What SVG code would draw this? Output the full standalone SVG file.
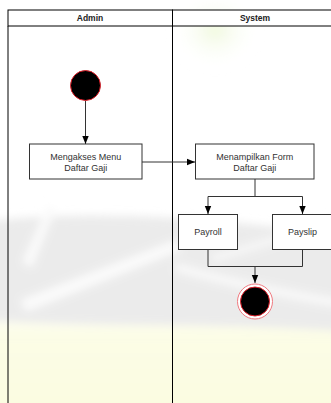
<svg xmlns="http://www.w3.org/2000/svg" width="331" height="403" viewBox="0 0 331 403">
  <defs>
    <marker id="arrow" viewBox="0 0 8 8" refX="8" refY="4" markerWidth="8" markerHeight="8" markerUnits="userSpaceOnUse" orient="auto">
      <path d="M0,0.8 L8,4 L0,7.2 Z" fill="#000"/>
    </marker>
    <linearGradient id="tint" x1="0" y1="0" x2="0" y2="1">
      <stop offset="0" stop-color="#fcfde6" stop-opacity="0"/>
      <stop offset="0.25" stop-color="#fcfde6"/>
      <stop offset="1" stop-color="#fbfcdf"/>
    </linearGradient>
    <radialGradient id="glow" cx="0.5" cy="0.5" r="0.5">
      <stop offset="0" stop-color="#f0f9de"/>
      <stop offset="1" stop-color="#ffffff" stop-opacity="0"/>
    </radialGradient>
    <filter id="soft" x="-10%" y="-10%" width="120%" height="120%">
      <feGaussianBlur stdDeviation="4"/>
    </filter>
  </defs>
  <style>
    .lane { fill: none; stroke: #000; stroke-width: 1; }
    .head { fill: #fff; stroke: #000; stroke-width: 1; }
    .hdr { font-family: "Liberation Sans", Arial, sans-serif; font-size: 8.5px; font-weight: bold; fill: #222; text-anchor: middle; }
    .box { fill: #fff; stroke: #333; stroke-width: 1; }
    .lbl { font-family: "Liberation Sans", Arial, sans-serif; font-size: 9px; fill: #333; text-anchor: middle; }
    .edge { fill: none; stroke: #333; stroke-width: 1; }
  </style>

  <!-- faint background watermark -->
  <rect x="0" y="0" width="331" height="403" fill="#fff"/>
  <g id="watermark" filter="url(#soft)">
    <ellipse cx="215" cy="30" rx="45" ry="40" fill="url(#glow)"/>
    <rect x="-20" y="305" width="371" height="120" fill="url(#tint)"/>
    <path d="M-20,222 C80,210 220,215 351,238 L351,332 C240,322 120,328 -20,320 Z" fill="#ebebeb"/>
    <path d="M20,300 L175,240 L182,250 L26,312 Z" fill="#fbfbfb"/>
    <path d="M22,262 L48,205 L56,208 L32,268 Z" fill="#fbfbfb"/>
    <path d="M175,262 C230,278 290,290 351,300 L351,310 C290,300 230,288 175,272 Z" fill="#f8f8f8"/>
    <path d="M210,255 L351,212 L351,221 L214,263 Z" fill="#f6f6f6"/>
  </g>

  <!-- swimlanes -->
  <g id="lanes">
    <rect class="head" x="8" y="10" width="164.5" height="16"/>
    <rect class="head" x="172.5" y="10" width="159" height="16"/>
    <line class="lane" x1="8" y1="26" x2="8" y2="403"/>
    <line class="lane" x1="172.5" y1="26" x2="172.5" y2="403"/>
    <text class="hdr" x="90" y="21">Admin</text>
    <text class="hdr" x="255" y="21">System</text>
  </g>

  <!-- connectors -->
  <g id="connectors">
    <path class="edge" d="M85.5,100.5 L85.5,144" marker-end="url(#arrow)"/>
    <path class="edge" d="M142,162 L195,162" marker-end="url(#arrow)"/>
    <path class="edge" d="M255,179 L255,196.5 L208,196.5 L208,214" marker-end="url(#arrow)"/>
    <path class="edge" d="M255,196.5 L302.5,196.5 L302.5,214" marker-end="url(#arrow)"/>
    <path class="edge" d="M208,249.5 L208,266.5 L302.5,266.5 L302.5,249.5"/>
    <path class="edge" d="M255,266.5 L255,283" marker-end="url(#arrow)"/>
  </g>

  <g id="start">
    <circle cx="85.5" cy="85.5" r="15" fill="#000" stroke="#e0202a" stroke-width="1"/>
  </g>

  <g id="akses-menu">
    <rect class="box" x="29.5" y="144" width="112.5" height="35"/>
    <text class="lbl" x="85.75" y="160">Mengakses Menu</text>
    <text class="lbl" x="85.75" y="171">Daftar Gaji</text>
  </g>

  <g id="tampil-form">
    <rect class="box" x="195.5" y="144" width="118.5" height="35"/>
    <text class="lbl" x="254.75" y="160">Menampilkan Form</text>
    <text class="lbl" x="254.75" y="171">Daftar Gaji</text>
  </g>

  <g id="payroll">
    <rect class="box" x="178.5" y="214.5" width="59" height="35"/>
    <text class="lbl" x="208" y="235">Payroll</text>
  </g>

  <g id="payslip">
    <rect class="box" x="272.5" y="214.5" width="60" height="35"/>
    <text class="lbl" x="302.5" y="235">Payslip</text>
  </g>

  <g id="end">
    <circle cx="255" cy="301.5" r="17.5" fill="#fff" stroke="#f07a80" stroke-width="1"/>
    <circle cx="255" cy="301.5" r="14.5" fill="#000" stroke="#e0202a" stroke-width="1"/>
  </g>
</svg>
